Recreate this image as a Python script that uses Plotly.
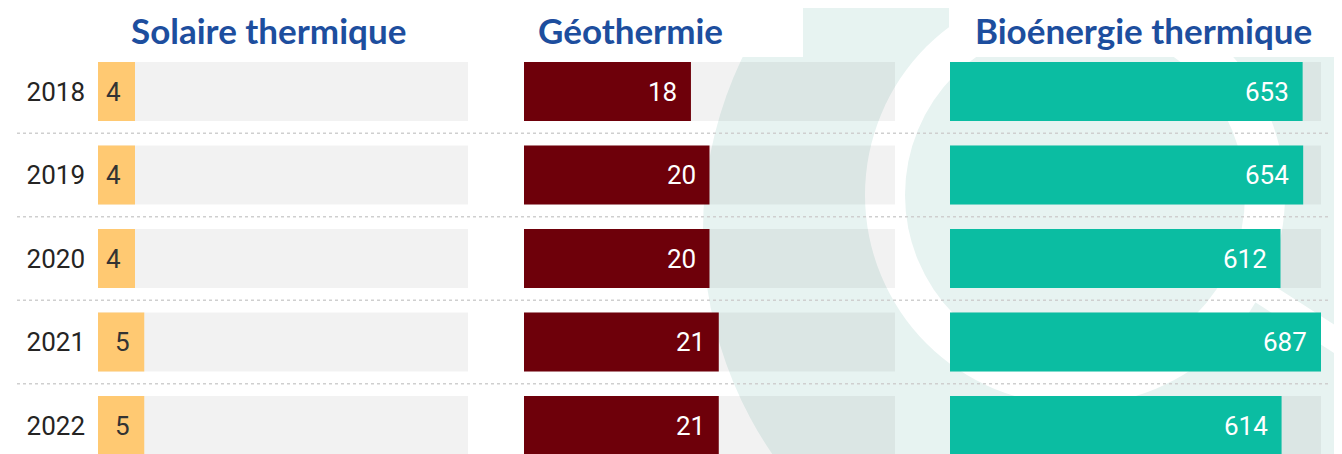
import plotly.graph_objects as go

YEARS = ["2018", "2019", "2020", "2021", "2022"]
SOLAIRE = [4, 4, 4, 5, 5]
GEOTHERMIE = [18, 20, 20, 21, 21]
BIOENERGIE = [653, 654, 612, 687, 614]

TITLES = ["Solaire thermique", "Géothermie", "Bioénergie thermique"]
SCALE_MAX = [40, 40, 687]

# the page body has an 8px margin, so the figure sits at (8, 8) in the window
OFF = 8
W, H = 1342 - OFF, 454 - OFF
BLUE = "#1D4E9E"
TEAL_WASH = "#E7F3F1"


def px(x):
    return (x - OFF) / W


def py(y):
    return 1 - (y - OFF) / H


panels = [
    dict(values=SOLAIRE, color="#FFC972", text_color="#333333", dom=(98, 468), title_x=268),
    dict(values=GEOTHERMIE, color="#6E000A", text_color="white", dom=(524, 895), title_x=630),
    dict(values=BIOENERGIE, color="#0BBDA2", text_color="white", dom=(950, 1321), title_x=1143),
]

fig = go.Figure()
annotations = []

for i, (p, title, vmax) in enumerate(zip(panels, TITLES, SCALE_MAX)):
    n = "" if i == 0 else str(i + 1)
    # grey track
    fig.add_trace(go.Bar(
        x=[vmax] * len(YEARS), y=YEARS, orientation="h", width=0.707,
        marker=dict(color="rgba(0,0,0,0.05)", line_width=0),
        xaxis="x" + n, yaxis="y" + n, hoverinfo="skip", showlegend=False,
    ))
    fig.add_trace(go.Bar(
        x=p["values"], y=YEARS, orientation="h", width=0.707, name=title,
        marker=dict(color=p["color"], line_width=0),
        xaxis="x" + n, yaxis="y" + n, showlegend=False,
    ))
    for k, v in enumerate(p["values"]):
        annotations.append(dict(
            x=v, y=k, xref="x" + n, yref="y" + n, text=str(v), showarrow=False,
            xanchor="right", xshift=-12,
            font=dict(family="Roboto", size=26, color=p["text_color"]),
        ))
    annotations.append(dict(
        x=px(p["title_x"]), y=1, xref="paper", yref="paper", text=title,
        showarrow=False, xanchor="center", yanchor="top", borderpad=0,
        font=dict(family="Lato", size=35, color=BLUE, weight="bold"),
    ))
    fig.update_layout({
        "xaxis" + n: dict(domain=[px(p["dom"][0]), px(p["dom"][1])], range=[0, vmax],
                          visible=False, fixedrange=True),
        "yaxis" + n: dict(domain=[0, 1], type="category", categoryarray=YEARS,
                          range=[4.341, -1.0], anchor="x" + n, showgrid=False,
                          zeroline=False, showline=False, ticks="",
                          showticklabels=(i == 0), ticklabelstandoff=12,
                          tickfont=dict(family="Roboto", size=26, color="#252423")),
    })

shapes = [
    # watermark
    dict(type="circle", xref="paper", yref="paper", layer="below", line_width=0,
         fillcolor=TEAL_WASH, x0=px(703), x1=px(1497), y0=py(-167), y1=py(627)),
    dict(type="circle", xref="paper", yref="paper", layer="below", line_width=0,
         fillcolor="white", x0=px(865), x1=px(1285), y0=py(-15), y1=py(405)),
    dict(type="circle", xref="paper", yref="paper", layer="below", line_width=0,
         fillcolor=TEAL_WASH, x0=px(905), x1=px(1245), y0=py(25), y1=py(365)),
    dict(type="line", xref="paper", yref="paper", layer="below",
         line=dict(color="white", width=24), x0=px(1235), x1=px(1370), y0=py(275), y1=py(362)),
    dict(type="rect", xref="paper", yref="paper", layer="below", line_width=0,
         fillcolor="white", x0=0, x1=px(803), y0=py(57), y1=1),
    dict(type="rect", xref="paper", yref="paper", layer="below", line_width=0,
         fillcolor="white", x0=px(949), x1=px(1338), y0=py(57), y1=1),
]
# dotted separators between rows
for k in range(len(YEARS) - 1):
    shapes.append(dict(type="line", xref="paper", yref="y", x0=px(17), x1=px(1330),
                       y0=k + 0.5, y1=k + 0.5,
                       line=dict(color="#CFCFCF", width=1.5, dash="dot")))

fig.update_layout(
    width=W, height=H,
    margin=dict(l=0, r=0, t=0, b=0),
    barmode="overlay",
    paper_bgcolor="white",
    plot_bgcolor="rgba(0,0,0,0)",
    annotations=annotations,
    shapes=shapes,
)

fig.write_html("out.html")
